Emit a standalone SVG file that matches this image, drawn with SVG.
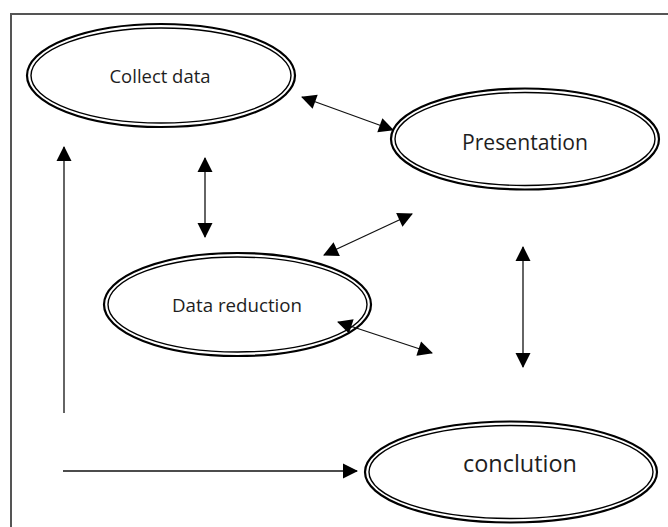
<svg xmlns="http://www.w3.org/2000/svg" width="668" height="527" viewBox="0 0 668 527">
<style>
.frame{stroke:#555;stroke-width:2;fill:none}
.eo{fill:none;stroke:#000;stroke-width:2.2}
.ei{fill:none;stroke:#000;stroke-width:1.4}
.lbl{font-family:"Open Sans","DejaVu Sans",sans-serif;fill:#1e1e1e;text-anchor:middle}
.c{stroke:#111;stroke-width:1.3;fill:none}
.s{marker-start:url(#ah)}
.e{marker-end:url(#ah)}
</style>
<defs>
<marker id="ah" markerUnits="userSpaceOnUse" markerWidth="16" markerHeight="16" viewBox="0 0 15 16" refX="14" refY="8" orient="auto-start-reverse">
<path d="M0,0.5 L15,8 L0,15.5 z" fill="#000"/>
</marker>
</defs>
<rect width="668" height="527" fill="#fff"/>
<path class="frame" d="M11,527 V14 H668"/>
<g id="collect-data">
<ellipse class="eo" cx="161" cy="75.5" rx="134" ry="51.5"/>
<ellipse class="ei" cx="161" cy="75.5" rx="130" ry="47.5"/>
<text class="lbl" x="160" y="83" font-size="18" textLength="101" lengthAdjust="spacingAndGlyphs">Collect data</text>
</g>
<g id="presentation">
<ellipse class="eo" cx="525" cy="139" rx="134" ry="50.5"/>
<ellipse class="ei" cx="525" cy="139" rx="130" ry="46.5"/>
<text class="lbl" x="525" y="150" font-size="21" textLength="126" lengthAdjust="spacingAndGlyphs">Presentation</text>
</g>
<g id="data-reduction">
<ellipse class="eo" cx="237.5" cy="304.5" rx="133.5" ry="51.5"/>
<ellipse class="ei" cx="237.5" cy="304.5" rx="129.5" ry="47.5"/>
<text class="lbl" x="237" y="312" font-size="18" textLength="130" lengthAdjust="spacingAndGlyphs">Data reduction</text>
</g>
<g id="conclution">
<ellipse class="eo" cx="511" cy="472" rx="146" ry="50.5"/>
<ellipse class="ei" cx="511" cy="472" rx="142" ry="46.5"/>
<text class="lbl" x="520" y="472" font-size="23" textLength="114" lengthAdjust="spacingAndGlyphs">conclution</text>
</g>
<g id="connectors">
<line class="c s e" x1="302" y1="97" x2="393" y2="130"/>
<line class="c s e" x1="412" y1="214" x2="324" y2="255"/>
<line class="c s e" x1="338" y1="322" x2="432" y2="353"/>
<line class="c s e" x1="205" y1="158" x2="205" y2="237"/>
<line class="c s e" x1="523" y1="247" x2="523" y2="367"/>
<line class="c e" x1="64" y1="413" x2="64" y2="147"/>
<line class="c e" x1="63" y1="471" x2="357" y2="471"/>
</g>
</svg>
